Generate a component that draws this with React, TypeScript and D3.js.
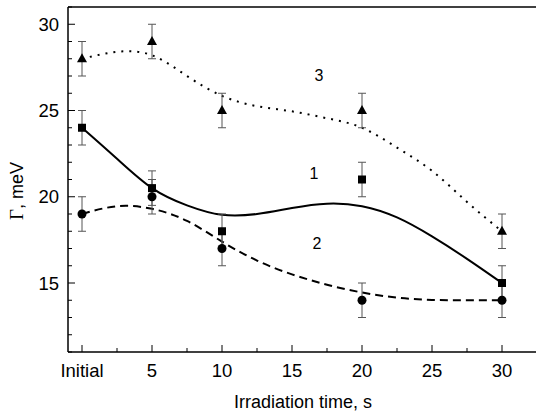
import React from "react";
import * as d3 from "d3";

// measured points (x: 0 = "Initial")
const times = [0, 5, 10, 20, 30];
const series1 = [24, 20.5, 18, 21, 15]; // squares
const series2 = [19, 20, 17, 14, 14]; // circles
const series3 = [28, 29, 25, 25, 18]; // triangles
const errors = [1, 1, 1, 1, 1];

// fitted curves
const fitX = [0, 2.5, 5, 7.5, 10, 12.5, 15, 17.5, 20, 22.5, 25, 27.5, 30];
const fit1 = [24, 22.2, 20.5, 19.5, 18.95, 19.0, 19.35, 19.6, 19.45, 18.8, 17.7, 16.4, 15];
const fit2 = [19, 19.45, 19.3, 18.6, 17.4, 16.3, 15.5, 14.9, 14.45, 14.15, 14.02, 14.0, 14];
const fit3 = [28, 28.4, 28.2, 27.0, 25.85, 25.25, 24.95, 24.55, 24.0, 22.85, 21.5, 19.7, 18];

const xTicks = [0, 5, 10, 15, 20, 25, 30];
const xTickLabels = ["Initial", "5", "10", "15", "20", "25", "30"];
const yTicks = [15, 20, 25, 30];

const App: React.FC = () => {
  const width = 536;
  const height = 417;
  const left = 68;
  const top = 7;
  const bottom = 352;

  const x = d3.scaleLinear().domain([-1, 32]).range([left, left + 33 * 14]);
  const y = d3.scaleLinear().domain([11, 31]).range([bottom, top]);

  const line = d3
    .line<number>()
    .x((_, i) => x(fitX[i]))
    .y((d) => y(d))
    .curve(d3.curveNatural);

  const xMinor = d3.range(0, 32.5, 2.5);
  const yMinor = d3.range(11, 31.01, 1);
  const font = "Arial, 'Liberation Sans', sans-serif";

  const errBars = (vals: number[], key: string) =>
    vals.map((v, i) => {
      const cx = x(times[i]);
      const y1 = y(v + errors[i]);
      const y2 = y(v - errors[i]);
      return (
        <g key={key + i} stroke="#555" strokeWidth={1}>
          <line x1={cx} x2={cx} y1={y1} y2={y2} />
          <line x1={cx - 4} x2={cx + 4} y1={y1} y2={y1} />
          <line x1={cx - 4} x2={cx + 4} y1={y2} y2={y2} />
        </g>
      );
    });

  return (
    <svg width={width} height={height} style={{ position: "absolute", left: 0, top: 0, background: "#fff" }}>
      {/* frame */}
      <line x1={left} x2={width} y1={top} y2={top} stroke="#000" strokeWidth={1.5} />
      <line x1={left} x2={left} y1={top} y2={bottom} stroke="#000" strokeWidth={1.5} />
      <line x1={left} x2={width} y1={bottom} y2={bottom} stroke="#000" strokeWidth={1.5} />

      {/* y ticks */}
      {yMinor.map((t) => {
        const major = yTicks.includes(t);
        return (
          <line key={"ym" + t} x1={left} x2={left + (major ? 7 : 4)} y1={y(t)} y2={y(t)} stroke="#000" strokeWidth={1} />
        );
      })}
      {yTicks.map((t) => (
        <text key={"yl" + t} x={59} y={y(t)} dy="0.36em" textAnchor="end" fontFamily={font} fontSize={18.5}>
          {t}
        </text>
      ))}

      {/* x ticks */}
      {xMinor.map((t) => {
        const major = xTicks.includes(t);
        return (
          <line key={"xm" + t} x1={x(t)} x2={x(t)} y1={bottom} y2={bottom - (major ? 7 : 4)} stroke="#000" strokeWidth={1} />
        );
      })}
      {xTicks.map((t, i) => (
        <text key={"xl" + t} x={x(t)} y={377} textAnchor="middle" fontFamily={font} fontSize={18.5}>
          {xTickLabels[i]}
        </text>
      ))}

      {/* axis titles */}
      <text x={303} y={408} textAnchor="middle" fontFamily={font} fontSize={18}>
        Irradiation time, s
      </text>
      <text
        transform={`translate(23,191) rotate(-90)`}
        textAnchor="middle"
        fontFamily={font}
        fontSize={18}
      >
        <tspan fontFamily="'Liberation Serif', 'DejaVu Serif', serif" fontSize={19}>Γ</tspan>, meV
      </text>

      {/* fits */}
      <path d={line(fit1) ?? ""} fill="none" stroke="#000" strokeWidth={2} />
      <path d={line(fit2) ?? ""} fill="none" stroke="#000" strokeWidth={2} strokeDasharray="8,5" />
      <path d={line(fit3) ?? ""} fill="none" stroke="#000" strokeWidth={2} strokeDasharray="2,6" />

      {/* error bars */}
      {errBars(series1, "e1")}
      {errBars(series2, "e2")}
      {errBars(series3, "e3")}

      {/* markers */}
      {series1.map((v, i) => (
        <rect key={"s" + i} x={x(times[i]) - 4} y={y(v) - 4} width={8} height={8} fill="#000" />
      ))}
      {series2.map((v, i) => (
        <circle key={"c" + i} cx={x(times[i])} cy={y(v)} r={4.5} fill="#000" />
      ))}
      {series3.map((v, i) => {
        const cx = x(times[i]);
        const cy = y(v);
        return <path key={"t" + i} d={`M${cx},${cy - 5.5}L${cx + 5},${cy + 3.5}L${cx - 5},${cy + 3.5}Z`} fill="#000" />;
      })}

      {/* curve labels */}
      <text x={319} y={75} dy="0.36em" textAnchor="middle" fontFamily={font} fontSize={16}>3</text>
      <text x={314} y={173} dy="0.36em" textAnchor="middle" fontFamily={font} fontSize={16}>1</text>
      <text x={317} y={243} dy="0.36em" textAnchor="middle" fontFamily={font} fontSize={16}>2</text>
    </svg>
  );
};

export default App;
